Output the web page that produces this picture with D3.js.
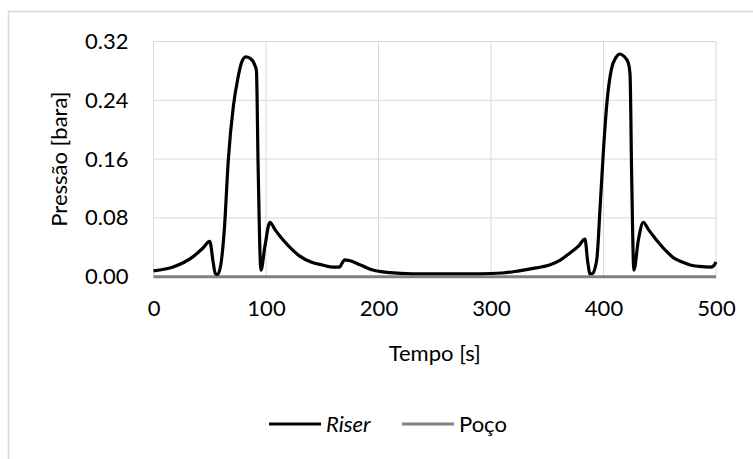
<!DOCTYPE html>
<html>
<head>
<meta charset="utf-8">
<script src="https://cdn.jsdelivr.net/npm/d3@7"></script>
<style>
  html, body { margin: 0; padding: 0; background: #fff; }
  svg { display: block; font-family: Lato, "Open Sans", sans-serif; }
</style>
</head>
<body>
<svg id="chart" width="753" height="459"></svg>
<script>
// ---- data ----
const time = [0, 18, 35, 44, 50, 53, 55, 57, 60, 63, 66.5, 71, 75, 78, 82, 86, 90, 91.5, 93, 95.5, 99, 103.5, 108, 113, 120, 130, 140, 150, 160, 165, 170, 174, 184, 195, 210, 230, 260, 290, 310, 325, 340, 352, 362, 370, 378, 383.5, 386, 388, 390, 394, 397, 400, 403, 407, 411, 414.7, 418, 422, 423.6, 425, 427, 431, 435.4, 440, 446, 455, 462, 470, 477, 485, 495, 498, 500];
const riser = [0.008, 0.0136, 0.027, 0.039, 0.048, 0.020, 0.004, 0.003, 0.018, 0.065, 0.159, 0.232, 0.270, 0.290, 0.299, 0.297, 0.288, 0.280, 0.150, 0.009, 0.041, 0.074, 0.064, 0.054, 0.042, 0.028, 0.020, 0.016, 0.013, 0.013, 0.023, 0.022, 0.016, 0.009, 0.0055, 0.004, 0.004, 0.004, 0.005, 0.008, 0.012, 0.016, 0.023, 0.032, 0.042, 0.051, 0.020, 0.004, 0.004, 0.023, 0.095, 0.173, 0.236, 0.282, 0.298, 0.303, 0.300, 0.291, 0.275, 0.141, 0.009, 0.050, 0.074, 0.064, 0.052, 0.036, 0.026, 0.020, 0.016, 0.014, 0.013, 0.015, 0.020];
const pocoTime = [0, 500];
const poco = [0, 0];
const xTicks = [0, 100, 200, 300, 400, 500];
const yTicks = [0, 0.08, 0.16, 0.24, 0.32];
const seriesNames = ["Riser", "Poço"];

// ---- layout ----
const svg = d3.select("#chart");
const L = 153.5, R = 716, T = 41.5, B = 276.7;
const x = d3.scaleLinear().domain([0, 500]).range([L, R]);
const y = d3.scaleLinear().domain([0, 0.32]).range([B, T]);

// outer chart border
svg.append("rect").attr("x", 8.5).attr("y", 11.5).attr("width", 800).attr("height", 500)
  .attr("fill", "none").attr("stroke", "#d9d9d9").attr("stroke-width", 1.5);

// gridlines
const grid = svg.append("g");
grid.selectAll("line.h").data(yTicks).join("line")
  .attr("x1", L).attr("x2", R).attr("y1", d => y(d)).attr("y2", d => y(d))
  .attr("stroke", "#d9d9d9").attr("stroke-width", 1);
grid.selectAll("line.v").data(xTicks).join("line")
  .attr("y1", T).attr("y2", B).attr("x1", d => x(d)).attr("x2", d => x(d))
  .attr("stroke", "#d9d9d9").attr("stroke-width", 1);

// axes (labels only)
const xAxis = svg.append("g").attr("transform", `translate(0,${B})`)
  .call(d3.axisBottom(x).tickValues(xTicks).tickSize(0).tickPadding(24).tickFormat(d3.format("d")));
const yAxis = svg.append("g").attr("transform", `translate(${L},0)`)
  .call(d3.axisLeft(y).tickValues(yTicks).tickSize(0).tickPadding(25).tickFormat(d3.format(".2f")));
[xAxis, yAxis].forEach(a => {
  a.select(".domain").remove();
  a.selectAll("text").attr("font-family", "Lato, sans-serif").attr("font-size", 22).attr("fill", "#000");
});

// axis titles
svg.append("text").attr("x", (L + R) / 2).attr("y", 361).attr("text-anchor", "middle")
  .attr("font-size", 22).attr("fill", "#000").text("Tempo [s]");
svg.append("text").attr("transform", `translate(67,${(T + B) / 2}) rotate(-90)`)
  .attr("text-anchor", "middle").attr("font-size", 22).attr("fill", "#000").text("Pressão [bara]");

// series
const line = d3.line().curve(d3.curveMonotoneX);
svg.append("path")
  .attr("d", line(pocoTime.map((t, i) => [x(t), y(poco[i])])))
  .attr("fill", "none").attr("stroke", "#808080").attr("stroke-width", 3);
svg.append("path")
  .attr("d", line(time.map((t, i) => [x(t), y(riser[i])])))
  .attr("fill", "none").attr("stroke", "#000").attr("stroke-width", 3.2)
  .attr("stroke-linejoin", "round");

// legend
const leg = svg.append("g");
const legY = 424;
const items = [
  { name: seriesNames[0], color: "#000", x0: 269, italic: true },
  { name: seriesNames[1], color: "#808080", x0: 402, italic: false }
];
items.forEach(it => {
  leg.append("line").attr("x1", it.x0).attr("x2", it.x0 + 52).attr("y1", legY).attr("y2", legY)
    .attr("stroke", it.color).attr("stroke-width", 3);
  leg.append("text").attr("x", it.x0 + 57).attr("y", legY).attr("dy", "0.35em")
    .attr("font-size", 22).attr("font-style", it.italic ? "italic" : "normal")
    .attr("fill", "#000").text(it.name);
});
</script>
</body>
</html>
